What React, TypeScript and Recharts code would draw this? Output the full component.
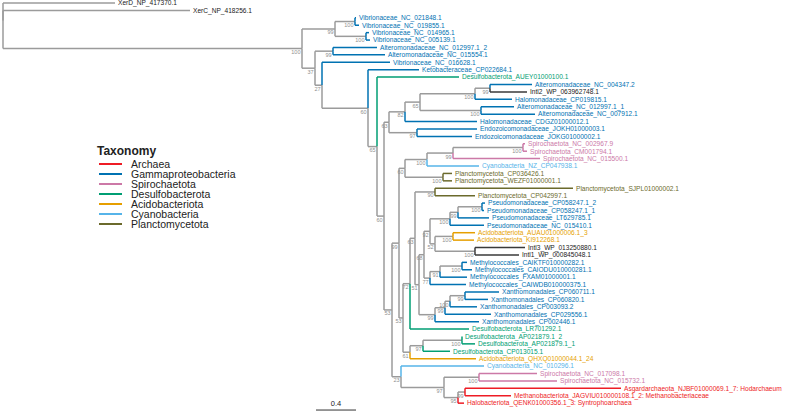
import React from "react";
import { ComposedChart, XAxis, YAxis, ReferenceLine, Scatter } from "recharts";

const TAXA = [
  "Archaea",
  "Gammaproteobacteria",
  "Spirochaetota",
  "Desulfobacterota",
  "Acidobacteriota",
  "Cyanobacteria",
  "Planctomycetota",
];
const TAXA_COLORS = ["#EE1C25", "#0072B2", "#CC79A7", "#009E73", "#E69F00", "#56B4E9", "#6B6A2C"];

// tips, top to bottom
const TIP_NAMES = [
  "XerD_NP_417370.1",
  "XerC_NP_418256.1",
  "Vibrionaceae_NC_021848.1",
  "Vibrionaceae_NC_019855.1",
  "Vibrionaceae_NC_014965.1",
  "Vibrionaceae_NC_005139.1",
  "Alteromonadaceae_NC_012997.1_2",
  "Alteromonadaceae_NC_015554.1",
  "Vibrionaceae_NC_016628.1",
  "Ketobacteraceae_CP022684.1",
  "Desulfobacterota_AUEY01000100.1",
  "Alteromonadaceae_NC_004347.2",
  "Intl2_WP_063962748.1",
  "Halomonadaceae_CP019815.1",
  "Alteromonadaceae_NC_012997.1_1",
  "Alteromonadaceae_NC_007912.1",
  "Halomonadaceae_CDGZ01000012.1",
  "Endozoicomonadaceae_JOKH01000003.1",
  "Endozoicomonadaceae_JOKG01000002.1",
  "Spirochaetota_NC_002967.9",
  "Spirochaetota_CM001794.1",
  "Spirochaetota_NC_015500.1",
  "Cyanobacteria_NZ_CP047938.1",
  "Planctomycetota_CP036426.1",
  "Planctomycetota_WEZF01000001.1",
  "Planctomycetota_SJPL01000002.1",
  "Planctomycetota_CP042997.1",
  "Pseudomonadaceae_CP058247.1_2",
  "Pseudomonadaceae_CP058247.1_1",
  "Pseudomonadaceae_LT629785.1",
  "Pseudomonadaceae_NC_015410.1",
  "Acidobacteriota_AUAU01000006.1_3",
  "Acidobacteriota_KI912268.1",
  "Intl3_WP_013250880.1",
  "Intl1_WP_000845048.1",
  "Methylococcales_CAIKTF010000282.1",
  "Methylococcales_CAIODU010000281.1",
  "Methylococcales_FXAM01000001.1",
  "Methylococcales_CAIWDB010000375.1",
  "Xanthomonadales_CP060711.1",
  "Xanthomonadales_CP060820.1",
  "Xanthomonadales_CP003093.2",
  "Xanthomonadales_CP029556.1",
  "Xanthomonadales_CP002446.1",
  "Desulfobacterota_LR701292.1",
  "Desulfobacterota_AP021879.1_2",
  "Desulfobacterota_AP021879.1_1",
  "Desulfobacterota_CP013015.1",
  "Acidobacteriota_QHXQ01000044.1_24",
  "Cyanobacteria_NC_010296.1",
  "Spirochaetota_NC_017098.1",
  "Spirochaetota_NC_015732.1",
  "Asgardarchaeota_NJBF01000069.1_7: Hodarchaeum",
  "Methanobacteriota_JAGVIU010000108.1_2: Methanobacteriaceae",
  "Halobacteriota_QENK01000356.1_3: Syntrophoarchaea",
];

// index into TAXA, -1 = Xer outgroup, -2 = integrase
const TIP_TAXON = [
  -1, -1, 1, 1, 1, 1, 1, 1, 1, 1,
  3, 1, -2, 1, 1, 1, 1, 1, 1, 2,
  2, 2, 5, 6, 6, 6, 6, 1, 1, 1,
  1, 4, 4, -2, -2, 1, 1, 1, 1, 1,
  1, 1, 1, 1, 3, 3, 3, 3, 4, 5,
  2, 2, 0, 0, 0,
];

// distance from root
const TIP_DEPTH = [
  1.12, 1.87, 3.53, 3.56, 3.66, 3.67, 3.74, 3.82, 3.87, 4.16,
  4.56, 5.29, 5.24, 5.09, 5.11, 5.32, 4.74, 4.74, 4.69, 5.22,
  5.24, 5.37, 4.76, 4.49, 4.49, 5.7, 4.72, 4.82, 4.81, 4.86,
  4.81, 4.72, 4.71, 5.22, 5.16, 4.64, 4.69, 4.64, 4.63, 4.96,
  4.85, 4.74, 4.88, 4.76, 4.66, 4.59, 4.72, 4.47, 4.73, 4.81,
  5.34, 5.54, 6.18, 5.08, 4.61,
];

const NODE_IDS = [
  "root", "M", "VIB", "V1", "V2", "A37", "ALT1", "N27", "N60a", "N65a",
  "B1", "H6", "H5", "H4", "H2", "H1", "H3", "E1", "N53a", "N99",
  "N60b", "SC", "S2", "S1", "PL1", "N53b", "N72", "N63c", "PL90", "N51",
  "N68", "N92", "P3", "P2", "P1", "N52", "AC", "IN", "M3", "M2",
  "M1", "X4", "X3", "X2", "X1", "N61", "D2", "D1", "N23", "N97",
  "SP", "AR2", "AR1",
];
const NODE_DEPTH = [
  0, 2.99, 3.32, 3.52, 3.63, 3.12, 3.3, 3.19, 3.65, 3.74,
  3.81, 3.86, 4.02, 4.17, 4.72, 4.87, 4.78, 4.14, 3.89, 3.96,
  4.02, 4.24, 4.5, 5.2, 4.4, 4.0, 4.07, 4.12, 4.32, 4.16,
  4.21, 4.27, 4.47, 4.55, 4.79, 4.32, 4.5, 4.72, 4.27, 4.37,
  4.59, 4.32, 4.42, 4.47, 4.62, 4.07, 4.2, 4.59, 3.98, 4.41,
  4.76, 4.55, 4.62,
];
const NODE_SUPPORT = [
  "", "100", "99", "100", "100", "37", "99", "27", "60", "65",
  "60", "63", "82", "65", "100", "99", "100", "97", "53", "99",
  "60", "100", "99", "100", "100", "53", "72", "63", "90", "51",
  "68", "92", "100", "99", "100", "52", "100", "100", "77", "91",
  "100", "99", "99", "100", "99", "61", "97", "100", "23", "97",
  "100", "95", "99",
];
const NODE_CHILDREN: (number | string)[][] = [
  [0, 1, "M"], ["VIB", "A37"], ["V1", "V2"], [2, 3], [4, 5],
  ["ALT1", "N27"], [6, 7], [8, "N60a"], [9, "N65a"], [10, "B1"],
  ["H6", "N53a"], ["H5", "E1"], ["H4", 16], ["H2", "H3"], ["H1", 13],
  [11, 12], [14, 15], [17, 18], ["N99", "N23"], ["N60b", "N53b"],
  ["SC", "PL1"], ["S2", 22], ["S1", 21], [19, 20], [23, 24],
  ["N72", "N61"], ["N63c", 44], ["PL90", "N51"], [25, 26], ["N68", "X4"],
  ["N92", "M3"], ["P3", "N52"], ["P2", 30], ["P1", 29], [27, 28],
  ["AC", "IN"], [31, 32], [33, 34], ["M2", 38], ["M1", 37],
  [35, 36], ["X3", 43], ["X2", 42], ["X1", 41], [39, 40],
  ["D2", 48], ["D1", 47], [45, 46], [49, "N97"], ["SP", "AR2"],
  [50, 51], ["AR1", 54], [52, 53],
];

const SCALE_BAR = { start: 3.13, length: 0.4, row: 54.93, label: "0.4" };

const GREY = "#9b9b9b";
const FONT = "'Liberation Sans', Arial, Helvetica, sans-serif";

const tipLabelColor = (t: number) => (t >= 0 ? TAXA_COLORS[t] : "#1a1a1a");
const tipEdgeColor = (t: number) => (t >= 0 ? TAXA_COLORS[t] : t === -2 ? "#3a3a3a" : GREY);

const nodeIndex = new Map(NODE_IDS.map((id, i) => [id, i]));
const nodeYCache: number[] = [];

function nodeY(k: number): number {
  if (nodeYCache[k] !== undefined) return nodeYCache[k];
  const ys = NODE_CHILDREN[k].map((c) => posOf(c).y);
  nodeYCache[k] = ys.reduce((a, b) => a + b, 0) / ys.length;
  return nodeYCache[k];
}

function posOf(c: number | string) {
  if (typeof c === "number") return { x: TIP_DEPTH[c], y: c };
  const k = nodeIndex.get(c)!;
  return { x: NODE_DEPTH[k], y: nodeY(k) };
}

// elbow edges: vertical at parent depth, then horizontal to child
const segments: { x1: number; y1: number; x2: number; y2: number; color: string }[] = [];
NODE_IDS.forEach((id, k) => {
  const p = posOf(id);
  NODE_CHILDREN[k].forEach((c) => {
    const q = posOf(c);
    const color = typeof c === "number" ? tipEdgeColor(TIP_TAXON[c]) : GREY;
    if (Math.abs(q.y - p.y) > 1e-6) segments.push({ x1: p.x, y1: p.y, x2: p.x, y2: q.y, color });
    segments.push({ x1: p.x, y1: q.y, x2: q.x, y2: q.y, color });
  });
});

const tips = TIP_NAMES.map((name, i) => ({
  x: TIP_DEPTH[i],
  y: i,
  name,
  color: tipLabelColor(TIP_TAXON[i]),
}));

const nodes = NODE_IDS.map((id, k) => ({
  x: NODE_DEPTH[k],
  y: nodeY(k),
  support: NODE_SUPPORT[k],
})).filter((n) => n.support !== "");

const scaleMark = [{ x: SCALE_BAR.start + SCALE_BAR.length / 2, y: SCALE_BAR.row, text: SCALE_BAR.label }];

const TipLabel = (props: any) => {
  const { cx, cy, payload } = props;
  return (
    <text x={cx + 3} y={cy} dy="0.35em" fontSize={6.6} fill={payload.color} fontFamily={FONT}>
      {payload.name}
    </text>
  );
};

const SupportLabel = (props: any) => {
  const { cx, cy, payload } = props;
  return (
    <text x={cx - 1.5} y={cy + 5.5} textAnchor="end" fontSize={5.5} fill="#8f8f8f" fontFamily={FONT}>
      {payload.support}
    </text>
  );
};

const ScaleLabel = (props: any) => {
  const { cx, cy, payload } = props;
  return (
    <text x={cx} y={cy - 4} textAnchor="middle" fontSize={7.5} fill="#222" fontFamily={FONT}>
      {payload.text}
    </text>
  );
};

export default function App() {
  return (
    <div style={{ position: "absolute", left: 0, top: 0, width: 785, height: 413, background: "#fff" }}>
      <ComposedChart width={785} height={413} margin={{ top: 0, right: 0, bottom: 0, left: 0 }}>
        <XAxis type="number" dataKey="x" domain={[-0.03, 7.82]} allowDataOverflow hide />
        <YAxis type="number" dataKey="y" domain={[-0.405, 55.33]} allowDataOverflow reversed hide />
        {segments.map((s, i) => (
          <ReferenceLine
            key={i}
            segment={[{ x: s.x1, y: s.y1 }, { x: s.x2, y: s.y2 }]}
            stroke={s.color}
            strokeWidth={1.5}
            ifOverflow="visible"
          />
        ))}
        <ReferenceLine
          segment={[
            { x: SCALE_BAR.start, y: SCALE_BAR.row },
            { x: SCALE_BAR.start + SCALE_BAR.length, y: SCALE_BAR.row },
          ]}
          stroke="#333"
          strokeWidth={1}
          ifOverflow="visible"
        />
        <Scatter data={nodes} shape={SupportLabel} isAnimationActive={false} />
        <Scatter data={tips} shape={TipLabel} isAnimationActive={false} />
        <Scatter data={scaleMark} shape={ScaleLabel} isAnimationActive={false} />
      </ComposedChart>

      {/* legend */}
      <div style={{ position: "absolute", left: 97, top: 145, fontFamily: FONT, color: "#222" }}>
        <div style={{ fontSize: 12, fontWeight: "bold", lineHeight: "13px", height: 14 }}>Taxonomy</div>
        {TAXA.map((t, i) => (
          <div key={t} style={{ position: "relative", height: 10, lineHeight: "10px", fontSize: 10.5 }}>
            <span
              style={{
                position: "absolute",
                left: 2,
                top: 4,
                width: 23,
                height: 2,
                background: TAXA_COLORS[i],
              }}
            />
            <span style={{ position: "absolute", left: 34, top: 0, whiteSpace: "nowrap" }}>{t}</span>
          </div>
        ))}
      </div>
    </div>
  );
}
